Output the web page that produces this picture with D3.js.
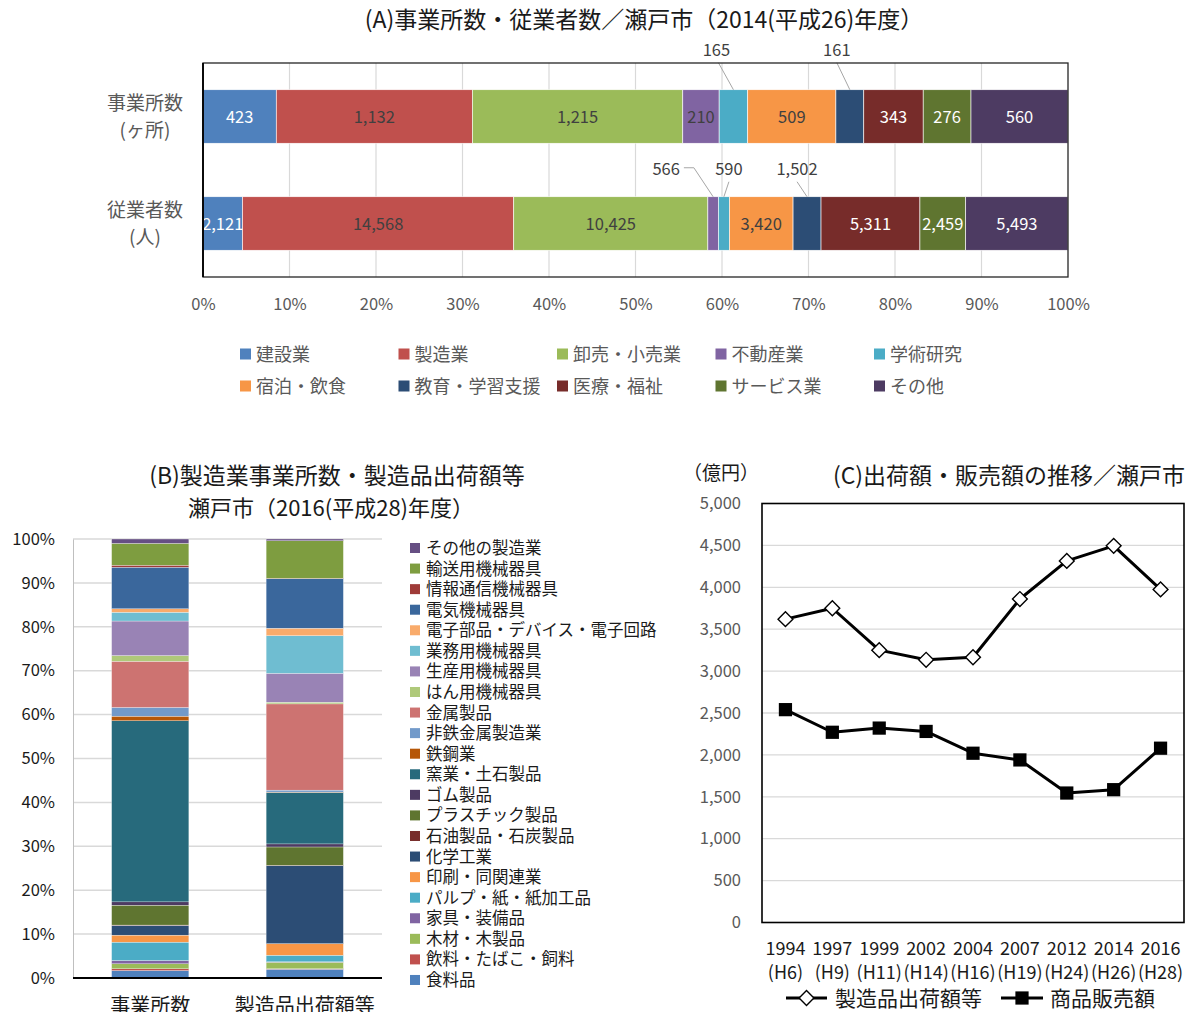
<!DOCTYPE html>
<html><head><meta charset="utf-8">
<script src="https://cdn.jsdelivr.net/npm/d3@7"></script>
<style>
body{margin:0;background:#fff}
svg{display:block}
text{font-family:"Noto Sans CJK JP","Noto Sans",sans-serif}
</style>
</head><body>
<svg id="chart" width="1199" height="1012"></svg>
<script>
// ---------- (A) establishments / employees by industry, 2014 ----------
const industriesA = ["建設業","製造業","卸売・小売業","不動産業","学術研究","宿泊・飲食","教育・学習支援","医療・福祉","サービス業","その他"];
const rowsA = ["事業所数","従業者数"];
const rowUnitsA = ["(ヶ所)","(人)"];
const establishments = [423,1132,1215,210,165,509,161,343,276,560];
const employees = [2121,14568,10425,566,590,3420,1502,5311,2459,5493];
const pctTicksA = [0,10,20,30,40,50,60,70,80,90,100];

// ---------- (B) manufacturing breakdown, 2016 (share %, bottom to top) ----------
const mfgCategories = ["食料品","飲料・たばこ・飼料","木材・木製品","家具・装備品","パルプ・紙・紙加工品","印刷・同関連業","化学工業","石油製品・石炭製品","プラスチック製品","ゴム製品","窯業・土石製品","鉄鋼業","非鉄金属製造業","金属製品","はん用機械器具","生産用機械器具","業務用機械器具","電子部品・デバイス・電子回路","電気機械器具","情報通信機械器具","輸送用機械器具","その他の製造業"];
const mfgEstablishShare = [1.7,0.4,1.15,0.75,4.2,1.6,2.2,0.1,4.55,0.75,41.4,1.05,2.0,10.55,1.3,7.9,2.0,0.8,9.5,0.45,5.0,1.0];
const mfgShipmentShare  = [2.0,0.1,1.5,0.1,1.5,2.65,17.8,0.1,4.2,0.7,11.75,0.1,0.45,19.7,0.4,6.6,8.6,1.7,11.3,0.1,8.6,0.4];
const barsB = ["事業所数","製造品出荷額等"];
const pctTicksB = [0,10,20,30,40,50,60,70,80,90,100];

// ---------- (C) shipments and sales over time (100M yen) ----------
const yearsC = ["1994","1997","1999","2002","2004","2007","2012","2014","2016"];
const eraC = ["(H6)","(H9)","(H11)","(H14)","(H16)","(H19)","(H24)","(H26)","(H28)"];
const shipmentsC = [3620,3750,3250,3135,3165,3860,4315,4495,3975];
const salesC = [2540,2270,2320,2280,2020,1940,1545,1585,2080];
const yTicksC = [0,500,1000,1500,2000,2500,3000,3500,4000,4500,5000];

// ---------- palettes ----------
const colorsA = ["#4F81BD","#C0504D","#9BBB59","#8064A2","#4BACC6","#F79646","#2C4D75","#772C2A","#5F7530","#4D3B62"];
const lightLabelA = [true,false,false,false,false,false,true,true,true,true];
const colorsB = ["#4F81BD","#C0504D","#9BBB59","#8064A2","#4BACC6","#F79646","#2C4D75","#772C2A","#5F7530","#4D3B62",
                 "#276A7C","#B65708","#729ACA","#CD7371","#AFC97A","#9983B5","#6FBDD1","#F9AB6B","#3A679C","#9F3B38","#7E9D40","#664F83"];

const svg = d3.select("#chart");
const fmt = d3.format(",");
const GRAY = "#595959", GRID = "#d9d9d9";

// =====================================================================
// Panel A
// =====================================================================
(function(){
  const g = svg.append("g");
  const x0 = 203, x1 = 1068, y0 = 63, y1 = 277;
  const rowsData = [establishments, employees].map((vals, r) => {
    const o = {row: rowsA[r]};
    industriesA.forEach((k, i) => o[k] = vals[i]);
    return o;
  });
  const stacked = d3.stack().keys(industriesA).offset(d3.stackOffsetExpand)(rowsData);
  const x = d3.scaleLinear().domain([0, 1]).range([x0, x1]);
  const y = d3.scaleBand().domain(rowsA).range([y0, y1]).paddingInner(0.5).paddingOuter(0.25);

  g.append("text").attr("x", 644).attr("y", 28).attr("text-anchor", "middle")
    .attr("font-size", 23).attr("fill", "#1a1a1a")
    .text("(A)事業所数・従業者数／瀬戸市（2014(平成26)年度）");

  // vertical gridlines
  g.selectAll("line.grid").data(pctTicksA.slice(1, -1)).join("line")
    .attr("x1", d => x(d / 100)).attr("x2", d => x(d / 100))
    .attr("y1", y0).attr("y2", y1).attr("stroke", GRID).attr("stroke-width", 1.2);

  // percent axis labels
  const axis = d3.axisBottom(x).tickValues(pctTicksA.map(d => d / 100)).tickFormat(d => Math.round(d * 100) + "%").tickSize(0).tickPadding(21);
  const ax = g.append("g").attr("transform", `translate(0,${y1})`).call(axis);
  ax.select(".domain").remove();
  ax.selectAll("text").attr("font-size", 16.5).attr("fill", GRAY).attr("font-family", '"Noto Sans CJK JP",sans-serif');

  // bars
  stacked.forEach((layer, i) => {
    g.selectAll(null).data(layer).join("rect")
      .attr("x", d => x(d[0])).attr("width", d => x(d[1]) - x(d[0]))
      .attr("y", d => y(d.data.row)).attr("height", y.bandwidth())
      .attr("fill", colorsA[i]).attr("stroke", "#fff").attr("stroke-width", 0.6);
  });

  // callouts for narrow segments
  const callouts = [
    {r: 0, i: 4, dx: -17, dy: -40, sx: 2},
    {r: 0, i: 6, dx: -13, dy: -40, sx: 0},
    {r: 1, i: 3, dx: -47, dy: -28, elbow: true},
    {r: 1, i: 4, dx: 5, dy: -28, sx: 0},
    {r: 1, i: 6, dx: -10, dy: -28, sx: 0}
  ];
  const isCallout = (r, i) => callouts.some(c => c.r === r && c.i === i);

  // inside labels
  stacked.forEach((layer, i) => {
    layer.forEach((d, r) => {
      if (isCallout(r, i)) return;
      const val = r === 0 ? establishments[i] : employees[i];
      g.append("text")
        .attr("x", x((d[0] + d[1]) / 2)).attr("y", y(rowsA[r]) + y.bandwidth() / 2 + 6)
        .attr("text-anchor", "middle").attr("font-size", 16.5)
        .attr("fill", lightLabelA[i] ? "#fff" : "#404040")
        .text(fmt(val));
    });
  });

  callouts.forEach(c => {
    const seg = stacked[c.i][c.r];
    const ax_ = x((seg[0] + seg[1]) / 2), ay = y(rowsA[c.r]);
    const lx = ax_ + c.dx, ly = ay + c.dy;
    const val = c.r === 0 ? establishments[c.i] : employees[c.i];
    const t = g.append("text").attr("x", lx).attr("y", ly + 6).attr("text-anchor", "middle")
      .attr("font-size", 16.5).attr("fill", "#404040").text(fmt(val));
    let pts;
    if (c.elbow) {
      const w = t.node().getComputedTextLength();
      pts = [[lx + w / 2 + 4, ly - 1], [lx + w / 2 + 14, ly - 1], [ax_, ay]];
    } else {
      pts = [[lx + c.sx, ly + 13], [ax_, ay]];
    }
    g.append("path").attr("d", d3.line()(pts)).attr("fill", "none").attr("stroke", "#a6a6a6").attr("stroke-width", 1);
  });

  // plot frame
  g.append("rect").attr("x", x0).attr("y", y0).attr("width", x1 - x0).attr("height", y1 - y0)
    .attr("fill", "none").attr("stroke", "#262626").attr("stroke-width", 1.3);
  g.append("line").attr("x1", x0).attr("x2", x0).attr("y1", y0).attr("y2", y1).attr("stroke", "#000").attr("stroke-width", 1.8);

  // row labels
  rowsA.forEach((r, k) => {
    const cy = y(r) + y.bandwidth() / 2;
    g.append("text").attr("x", 145).attr("y", cy - 7).attr("text-anchor", "middle").attr("font-size", 19).attr("fill", GRAY).text(r);
    g.append("text").attr("x", 145).attr("y", cy + 20).attr("text-anchor", "middle").attr("font-size", 19).attr("fill", GRAY).text(rowUnitsA[k]);
  });

  // legend
  industriesA.forEach((name, i) => {
    const col = i % 5, row = Math.floor(i / 5);
    const lx = 240 + col * 158.5, ly = 354 + row * 32;
    g.append("rect").attr("x", lx).attr("y", ly - 5.5).attr("width", 11).attr("height", 11).attr("fill", colorsA[i]);
    g.append("text").attr("x", lx + 16).attr("y", ly + 6.5).attr("font-size", 18).attr("fill", GRAY).text(name);
  });
})();

// =====================================================================
// Panel B
// =====================================================================
(function(){
  const g = svg.append("g");
  const x0 = 73, x1 = 382, yTop = 539, yBot = 978;
  const data = barsB.map((b, k) => {
    const src = k === 0 ? mfgEstablishShare : mfgShipmentShare;
    const o = {bar: b};
    mfgCategories.forEach((c, i) => o[c] = src[i]);
    return o;
  });
  const stacked = d3.stack().keys(mfgCategories).offset(d3.stackOffsetExpand)(data);
  const x = d3.scaleBand().domain(barsB).range([x0, x1]).paddingInner(0.5).paddingOuter(0.25);
  const y = d3.scaleLinear().domain([0, 1]).range([yBot, yTop]);

  g.append("text").attr("x", 337).attr("y", 484).attr("text-anchor", "middle").attr("font-size", 23).attr("fill", "#1a1a1a")
    .text("(B)製造業事業所数・製造品出荷額等");
  g.append("text").attr("x", 331).attr("y", 516).attr("text-anchor", "middle").attr("font-size", 22).attr("fill", "#1a1a1a")
    .text("瀬戸市（2016(平成28)年度）");

  // gridlines
  g.selectAll(null).data(pctTicksB.slice(1)).join("line")
    .attr("x1", x0).attr("x2", x1).attr("y1", d => y(d / 100)).attr("y2", d => y(d / 100))
    .attr("stroke", GRID).attr("stroke-width", 1.5);

  const axis = d3.axisLeft(y).tickValues(pctTicksB.map(d => d / 100)).tickFormat(d => Math.round(d * 100) + "%").tickSize(0).tickPadding(18);
  const ay = g.append("g").attr("transform", `translate(${x0},0)`).call(axis);
  ay.select(".domain").attr("stroke", "#bfbfbf");
  ay.selectAll("text").attr("font-size", 16.5).attr("fill", "#1a1a1a").attr("font-family", '"Noto Sans CJK JP",sans-serif');

  stacked.forEach((layer, i) => {
    g.selectAll(null).data(layer).join("rect")
      .attr("x", d => x(d.data.bar)).attr("width", x.bandwidth())
      .attr("y", d => y(d[1])).attr("height", d => y(d[0]) - y(d[1]))
      .attr("fill", colorsB[i]).attr("stroke", "#fff").attr("stroke-width", 0.3);
  });

  g.append("line").attr("x1", x0).attr("x2", x1).attr("y1", yBot).attr("y2", yBot).attr("stroke", "#000").attr("stroke-width", 2);

  barsB.forEach(b => {
    g.append("text").attr("x", x(b) + x.bandwidth() / 2).attr("y", 1013).attr("text-anchor", "middle")
      .attr("font-size", 20).attr("fill", "#1a1a1a").text(b);
  });

  // legend, top entry is the last stacked series
  const legendItems = mfgCategories.map((c, i) => ({c, i})).reverse();
  legendItems.forEach((d, k) => {
    const ly = 548 + k * 20.57;
    g.append("rect").attr("x", 410).attr("y", ly - 5).attr("width", 10).attr("height", 10).attr("fill", colorsB[d.i]);
    g.append("text").attr("x", 426).attr("y", ly + 6).attr("font-size", 16.5).attr("fill", "#1a1a1a").text(d.c);
  });
})();

// =====================================================================
// Panel C
// =====================================================================
(function(){
  const g = svg.append("g");
  const x0 = 762, x1 = 1184, yTop = 503.5, yBot = 922.5;
  const x = d3.scalePoint().domain(yearsC).range([x0, x1]).padding(0.5);
  const y = d3.scaleLinear().domain([0, 5000]).range([yBot, yTop]);

  g.append("text").attr("x", 1009).attr("y", 484).attr("text-anchor", "middle").attr("font-size", 23).attr("fill", "#1a1a1a")
    .text("(C)出荷額・販売額の推移／瀬戸市");
  g.append("text").attr("x", 683).attr("y", 480).attr("font-size", 19).attr("fill", "#1a1a1a").text("（億円）");

  g.selectAll(null).data(yTicksC.slice(1, -1)).join("line")
    .attr("x1", x0).attr("x2", x1).attr("y1", d => y(d)).attr("y2", d => y(d))
    .attr("stroke", GRID).attr("stroke-width", 1.3);

  const axis = d3.axisLeft(y).tickValues(yTicksC).tickFormat(fmt).tickSize(0).tickPadding(21);
  const ay = g.append("g").attr("transform", `translate(${x0},0)`).call(axis);
  ay.select(".domain").remove();
  ay.selectAll("text").attr("font-size", 16.5).attr("fill", GRAY).attr("font-family", '"Noto Sans CJK JP",sans-serif');

  g.append("rect").attr("x", x0).attr("y", yTop).attr("width", x1 - x0).attr("height", yBot - yTop)
    .attr("fill", "none").attr("stroke", "#000").attr("stroke-width", 1.6);

  yearsC.forEach((yr, i) => {
    g.append("text").attr("x", x(yr)).attr("y", 955).attr("text-anchor", "middle").attr("font-size", 18).attr("fill", "#1a1a1a").text(yr);
    g.append("text").attr("x", x(yr)).attr("y", 979).attr("text-anchor", "middle").attr("font-size", 18).attr("fill", "#1a1a1a").text(eraC[i]);
  });

  const line = d3.line().x((d, i) => x(yearsC[i])).y(d => y(d));
  g.append("path").attr("d", line(shipmentsC)).attr("fill", "none").attr("stroke", "#000").attr("stroke-width", 3).attr("stroke-linejoin", "round");
  g.append("path").attr("d", line(salesC)).attr("fill", "none").attr("stroke", "#000").attr("stroke-width", 3).attr("stroke-linejoin", "round");

  const diamond = d3.symbol(d3.symbolSquare, 110)();
  const square = d3.symbol(d3.symbolSquare, 175)();
  shipmentsC.forEach((v, i) => {
    g.append("path").attr("d", diamond).attr("transform", `translate(${x(yearsC[i])},${y(v)}) rotate(45)`)
      .attr("fill", "#fff").attr("stroke", "#000").attr("stroke-width", 1.4);
  });
  salesC.forEach((v, i) => {
    g.append("path").attr("d", square).attr("transform", `translate(${x(yearsC[i])},${y(v)})`).attr("fill", "#000");
  });

  // legend
  const ly = 998;
  g.append("line").attr("x1", 786).attr("x2", 827).attr("y1", ly).attr("y2", ly).attr("stroke", "#000").attr("stroke-width", 3);
  g.append("path").attr("d", diamond).attr("transform", `translate(806.5,${ly}) rotate(45)`).attr("fill", "#fff").attr("stroke", "#000").attr("stroke-width", 1.4);
  g.append("text").attr("x", 835).attr("y", ly + 8).attr("font-size", 21).attr("fill", "#1a1a1a").text("製造品出荷額等");
  g.append("line").attr("x1", 1001).attr("x2", 1043).attr("y1", ly).attr("y2", ly).attr("stroke", "#000").attr("stroke-width", 3);
  g.append("path").attr("d", square).attr("transform", `translate(1022,${ly})`).attr("fill", "#000");
  g.append("text").attr("x", 1050).attr("y", ly + 8).attr("font-size", 21).attr("fill", "#1a1a1a").text("商品販売額");
})();
</script>
</body></html>
